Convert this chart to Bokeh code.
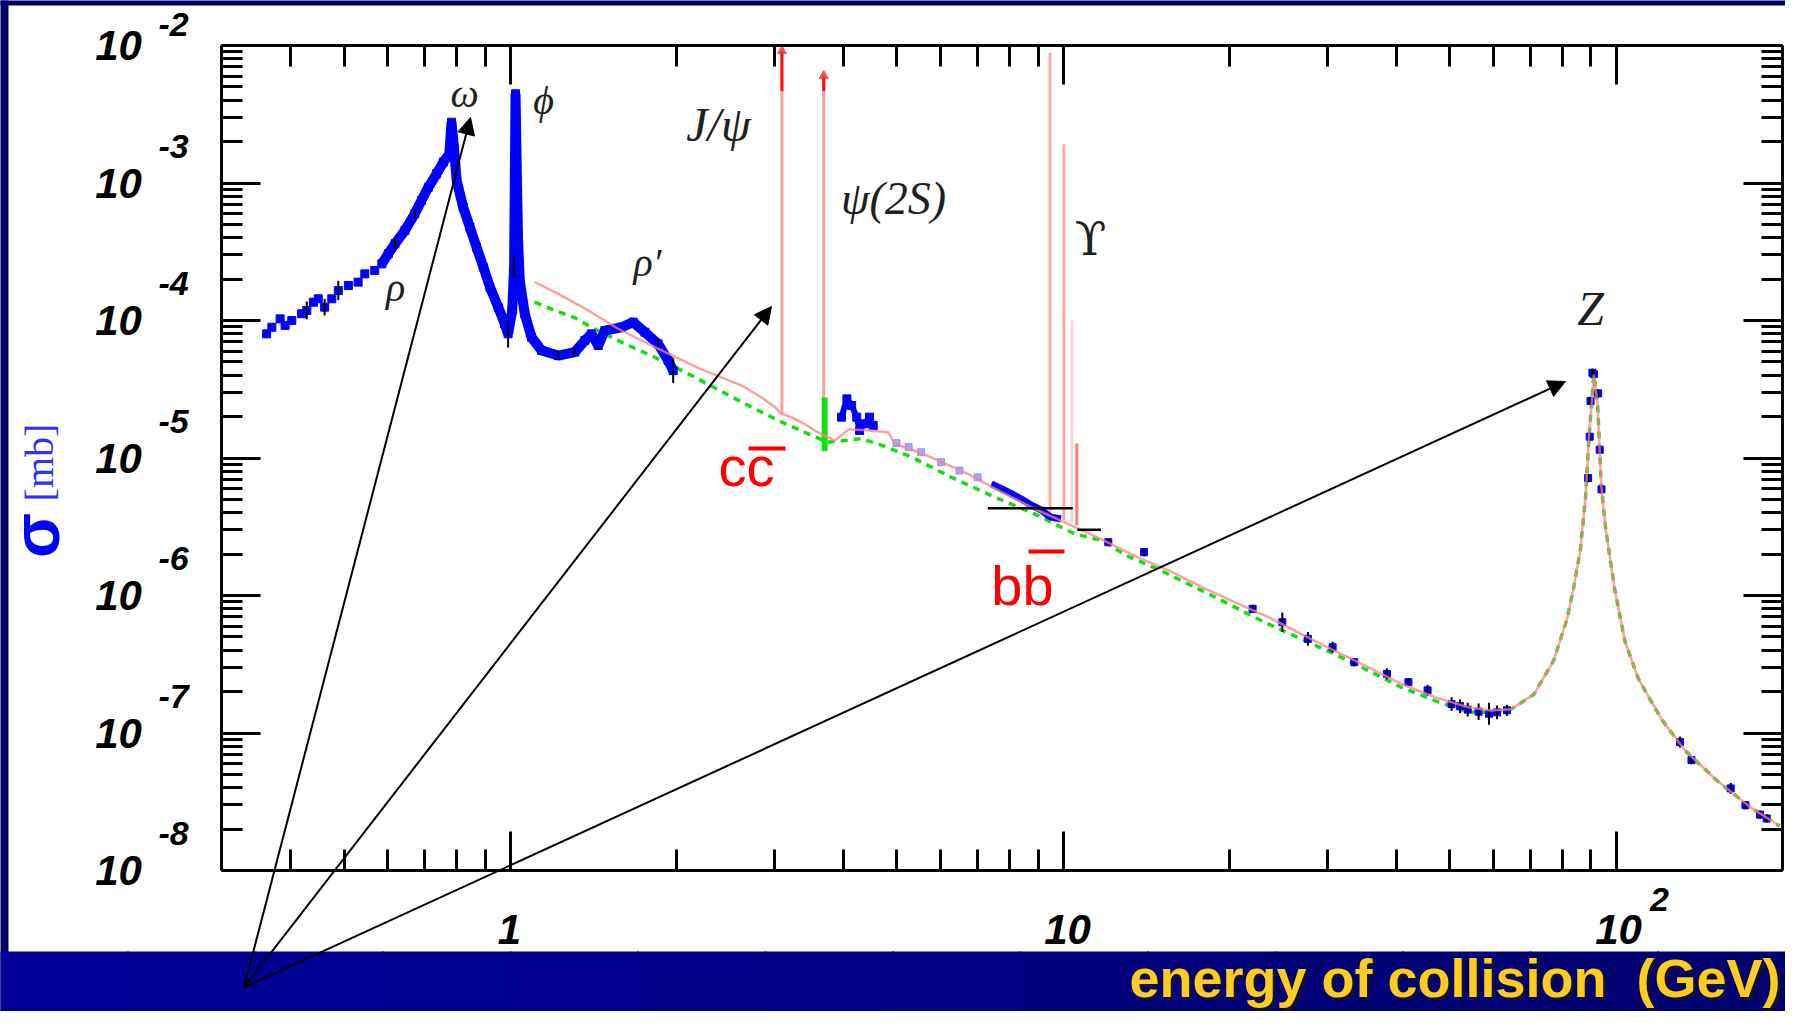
import math
from bokeh.plotting import figure
from bokeh.models import (Range1d, LogAxis, FixedTicker, Label, Arrow, NormalHead,
                          BoxAnnotation, ColumnDataSource)
from bokeh.embed import file_html
from bokeh.resources import INLINE

# ---------------- data (energy in GeV, log10 of cross-section in mb) ----------------
blue_low_E = [0.362, 0.370, 0.383, 0.391, 0.402, 0.419, 0.428, 0.440, 0.449, 0.461,
              0.475, 0.488, 0.509, 0.530, 0.545, 0.568, 0.585, 0.601, 0.618, 0.644,
              0.671, 0.690, 0.710, 0.735, 0.756, 0.775, 0.782, 0.790, 0.799, 0.821,
              0.844, 0.868, 0.893, 0.918, 0.950, 0.976, 0.990, 1.007, 1.015, 1.018,
              1.021, 1.027, 1.032, 1.039, 1.061, 1.091, 1.138, 1.220, 1.307, 1.363,
              1.401, 1.441, 1.481, 1.588, 1.667, 1.750, 1.849, 1.928, 1.969]
blue_low_log = [-4.097, -4.049, -3.988, -4.036, -4.000, -3.951, -3.927, -3.867, -3.842, -3.903,
                -3.842, -3.782, -3.745, -3.721, -3.661, -3.636, -3.588, -3.515, -3.442, -3.345,
                -3.224, -3.127, -3.031, -2.933, -2.848, -2.788, -2.558, -2.739, -2.982, -3.176,
                -3.321, -3.467, -3.612, -3.758, -3.903, -4.024, -4.097, -3.927, -3.612, -2.982,
                -2.351, -2.982, -3.418, -3.709, -3.951, -4.121, -4.218, -4.255, -4.230, -4.145,
                -4.097, -4.182, -4.073, -4.049, -4.012, -4.085, -4.170, -4.291, -4.364]
blue_low_err = [0, 0, 0, 0, 0, 0, 0.065, 0, 0, 0.06,
                0, 0.07, 0, 0, 0, 0, 0, 0, 0.04, 0,
                0.03, 0, 0, 0, 0, 0, 0, 0, 0, 0,
                0, 0, 0, 0, 0, 0, 0.10, 0, 0.08, 0,
                0, 0, 0, 0, 0, 0, 0, 0.03, 0.03, 0,
                0, 0, 0, 0, 0, 0, 0.04, 0, 0.09]

blue_mid_E = [3.97, 4.06, 4.14, 4.23, 4.28, 4.37, 4.46, 4.53]
blue_mid_log = [-4.703, -4.570, -4.618, -4.703, -4.800, -4.751, -4.703, -4.764]

lilac_E = [4.99, 5.25, 5.53, 6.01, 6.49, 7.00]
lilac_log = [-4.892, -4.921, -4.958, -5.030, -5.091, -5.140]

blue_b_E = [7.41, 7.74, 8.07, 8.41, 8.77, 9.14, 9.40, 9.51, 9.90]
blue_b_log = [-5.188, -5.224, -5.261, -5.300, -5.345, -5.380, -5.420, -5.430, -5.444]

cont_E = [12.06, 14.0, 22.0, 24.9, 27.7, 30.7, 33.6, 38.5, 42.1, 45.6,
          50.4, 52.2, 53.9, 56.4, 58.9, 60.9, 63.5, 89.0, 89.6, 89.9,
          90.6, 91.2, 92.8, 93.4, 94.1, 130.5, 136.9, 161.2, 171.4, 182.2, 187.3]
cont_log = [-5.612, -5.685, -6.097, -6.194, -6.315, -6.376, -6.485, -6.570, -6.630, -6.690,
            -6.790, -6.805, -6.830, -6.845, -6.860, -6.850, -6.835, -5.146, -4.845, -4.585,
            -4.380, -4.390, -4.530, -4.940, -5.228, -7.066, -7.197, -7.403, -7.525, -7.594, -7.622]
cont_err = [0.02, 0.03, 0.03, 0.07, 0.05, 0.04, 0.03, 0.04, 0.03, 0.04,
            0.05, 0.05, 0.05, 0.06, 0.08, 0.05, 0.04, 0.03, 0.03, 0.03,
            0.03, 0.03, 0.03, 0.03, 0.03, 0.04, 0.03, 0.04, 0.03, 0.03, 0.03]

pink_E = [1.106, 1.203, 1.382, 1.565, 1.824, 2.20, 2.62, 2.84, 3.01, 3.09,
          3.22, 3.40, 3.55, 3.86, 4.10, 4.45, 4.82, 4.96, 5.47, 5.85,
          6.72, 7.74, 8.87, 10.2, 11.7, 13.4, 15.5, 17.8, 20.4, 23.5,
          26.9, 30.9, 35.6, 40.8, 47.0, 53.9, 59.3, 64.5, 71.0, 77.1,
          81.5, 83.7, 86.1, 88.0, 89.3, 90.6, 91.1, 92.6, 94.0, 95.8,
          99.4, 103.8, 109.8, 121.3, 133.4, 152.4, 174.8, 197.6]
pink_log = [-3.720, -3.794, -3.927, -4.060, -4.194, -4.350, -4.473, -4.558, -4.630, -4.679,
            -4.703, -4.751, -4.800, -4.873, -4.790, -4.800, -4.812, -4.897, -4.958, -5.006,
            -5.115, -5.249, -5.370, -5.479, -5.590, -5.709, -5.818, -5.939, -6.048, -6.158,
            -6.279, -6.400, -6.521, -6.642, -6.739, -6.812, -6.836, -6.828, -6.719, -6.473,
            -6.172, -5.953, -5.679, -5.296, -4.858, -4.530, -4.394, -4.613, -5.200, -5.520,
            -5.953, -6.336, -6.609, -6.910, -7.129, -7.348, -7.539, -7.676]

green_E = [1.106, 1.203, 1.307, 1.401, 1.61, 1.824, 2.125, 2.62, 3.05, 3.40,
           3.75, 4.31, 4.62, 5.32, 6.27, 7.52, 8.87, 10.47, 11.74, 13.0,
           15.0, 17.3, 19.9, 23.1, 26.5, 30.9, 35.6, 40.8, 47.0, 53.9,
           59.3, 64.5, 71.0, 77.1, 81.5, 83.7, 86.1, 88.0, 89.3, 90.6,
           91.1, 92.6, 94.0, 95.8, 99.4, 103.8, 109.8, 121.3, 133.4, 152.4,
           174.8, 197.6]
green_log = [-3.867, -3.927, -3.980, -4.049, -4.170, -4.267, -4.400, -4.594, -4.727, -4.812,
             -4.885, -4.860, -4.897, -4.994, -5.140, -5.285, -5.406, -5.551, -5.600, -5.709,
             -5.818, -5.940, -6.060, -6.194, -6.303, -6.424, -6.545, -6.667, -6.764, -6.848,
             -6.850, -6.828, -6.719, -6.473, -6.172, -5.953, -5.679, -5.296, -4.858, -4.530,
             -4.394, -4.613, -5.200, -5.520, -5.953, -6.336, -6.609, -6.910, -7.129, -7.348,
             -7.539, -7.676]

# narrow resonances (vertical spikes)
spike_E = [3.097, 3.686, 9.46, 10.02, 10.36, 10.58]
spike_bottom_log = [-4.68, -4.86, -5.42, -5.45, -5.47, -5.49]
spike_top_log = [-2.04, -2.22, -2.055, -2.72, -4.00, -4.894]
spike_color = ["#ffa0a0", "#ffa0a0", "#ffa8a8", "#ffa8a8", "#ffd4d4", "#ff7a7a"]
redtip_E = [3.097, 3.686]
redtip_top_log = [-2.04, -2.22]
redtip_bot_log = [-2.33, -2.33]
green_spike_E = [3.70]
green_spike_lo = [-4.95]
green_spike_hi = [-4.56]

# black step segments near the b threshold
step_E0 = [7.3, 10.6]
step_E1 = [10.4, 11.7]
step_log = [-5.366, -5.522]

# axis ticks
x_major = [1, 10, 100]
x_minor = [0.4, 0.5, 0.6, 0.7, 0.8, 0.9, 2, 3, 4, 5, 6, 7, 8, 9,
           20, 30, 40, 50, 60, 70, 80, 90]
y_major_exp = [-8, -7, -6, -5, -4, -3, -2]
y_minor_mult = [2, 3, 4, 5, 6, 7, 8, 9]

# ---------------- geometry (reference pixels -> data) ----------------
W, H = 1785, 1011
FX0, FX1, FY0, FY1 = 221, 1782, 45, 870
XMIN, XMAX = 0.3, 200.0
YMIN, YMAX = 1e-8, 1e-2


def X(px):
    return 10 ** (math.log10(XMIN) + (px - FX0) / (FX1 - FX0) * math.log10(XMAX / XMIN))


def Y(py):
    return 10 ** (math.log10(YMAX) - (py - FY0) / (FY1 - FY0) * math.log10(YMAX / YMIN))


def sig(vals):
    return [10 ** v for v in vals]


p = figure(width=W, height=H, x_axis_type="log", y_axis_type="log",
           x_axis_location=None, y_axis_location=None,
           x_range=Range1d(X(0), X(W)), y_range=Range1d(Y(H), Y(0)),
           output_backend="svg", toolbar_location=None,
           min_border_left=0, min_border_right=0, min_border_top=0, min_border_bottom=0)
p.outline_line_color = None
p.xgrid.visible = False
p.ygrid.visible = False
p.background_fill_color = "white"
p.border_fill_color = "white"

xt = FixedTicker(ticks=x_major, minor_ticks=x_minor)
y_major = [10.0 ** e for e in y_major_exp]
y_minor = [m * 10.0 ** e for e in y_major_exp[:-1] for m in y_minor_mult]
yt = FixedTicker(ticks=y_major, minor_ticks=y_minor)


def make_axis(ticker, loc, bounds):
    ax = LogAxis(ticker=ticker, fixed_location=loc, bounds=bounds)
    ax.major_tick_in = 39
    ax.major_tick_out = 0
    ax.minor_tick_in = 21
    ax.minor_tick_out = 0
    ax.axis_line_width = 3
    ax.major_tick_line_width = 3
    ax.minor_tick_line_width = 3
    ax.axis_line_color = "black"
    ax.major_tick_line_color = "black"
    ax.minor_tick_line_color = "black"
    ax.major_label_text_font_size = "1px"
    ax.major_label_text_alpha = 0.0
    ax.major_label_standoff = 0
    return ax


p.add_layout(make_axis(xt, YMIN, (XMIN, XMAX)), "below")
p.add_layout(make_axis(xt, YMAX, (XMIN, XMAX)), "above")
p.add_layout(make_axis(yt, XMIN, (YMIN, YMAX)), "left")
p.add_layout(make_axis(yt, XMAX, (YMIN, YMAX)), "right")

# ---------------- glyphs ----------------
spikes = ColumnDataSource(dict(x=spike_E, y0=sig(spike_bottom_log), y1=sig(spike_top_log), c=spike_color))
p.segment(x0="x", y0="y0", x1="x", y1="y1", source=spikes, line_color="c", line_width=3)
p.segment(x0=redtip_E, y0=sig(redtip_bot_log), x1=redtip_E, y1=sig(redtip_top_log),
          line_color="#ff1010", line_width=3)
p.scatter(redtip_E, sig(redtip_top_log), marker="triangle", size=9, color="#ff3030", alpha=0.8)

p.line(green_E, sig(green_log), line_color="#10e010", line_width=3.5, line_dash="7 6")
p.segment(x0=green_spike_E, y0=sig(green_spike_lo), x1=green_spike_E, y1=sig(green_spike_hi),
          line_color="#10e010", line_width=6)

# blue data
p.line(blue_low_E[16:], sig(blue_low_log[16:]), line_color="#0000ff", line_width=10)
p.scatter(blue_low_E, sig(blue_low_log), marker="square", size=8, color="#0000ff")
p.line(blue_mid_E, sig(blue_mid_log), line_color="#0000ff", line_width=6)
p.scatter(blue_mid_E, sig(blue_mid_log), marker="square", size=8, color="#0000ff")
p.scatter(lilac_E, sig(lilac_log), marker="square", size=7, color="#8080ff", alpha=0.7)
p.line(blue_b_E, sig(blue_b_log), line_color="#0000ff", line_width=7)
p.scatter(cont_E, sig(cont_log), marker="square", size=7, color="#0000ff")

errs = ColumnDataSource(dict(
    x=blue_low_E + cont_E,
    lo=[10 ** (v - e) for v, e in zip(blue_low_log + cont_log, blue_low_err + cont_err)],
    hi=[10 ** (v + e) for v, e in zip(blue_low_log + cont_log, blue_low_err + cont_err)]))
p.segment(x0="x", y0="lo", x1="x", y1="hi", source=errs, line_color="black", line_width=2)

p.line(pink_E, sig(pink_log), line_color="#ff8080", line_width=2.5, alpha=0.75)

p.segment(x0=step_E0, y0=sig(step_log), x1=step_E1, y1=sig(step_log), line_color="black", line_width=2.5)


# ---------------- annotations ----------------
def lab(text, px, py, size, font="Liberation Sans", style="normal", color="black",
        align="center", angle=0.0):
    p.add_layout(Label(x=X(px), y=Y(py), text=text, text_font=font,
                       text_font_size=f"{size}px", text_font_style=style,
                       text_color=color, text_align=align, text_baseline="middle",
                       angle=angle))


def box(x0, x1, y0, y1, color):
    p.add_layout(BoxAnnotation(left=X(x0), right=X(x1), top=Y(y0), bottom=Y(y1),
                               fill_color=color, fill_alpha=1.0, line_color=None))


# navy frame strips and bottom band (gradient)
box(-2, W + 2, -2, 5, "#000066")
box(-2, 8, -2, H + 2, "#000066")
nb = 14
for i in range(nb):
    t = i / (nb - 1)
    b = int(round(152 - 40 * t))
    box(i * W / nb - 1, (i + 1) * W / nb + 1, 951, H + 2, f"#0000{b:02x}")

band_text = "energy of collision\u00a0\u00a0(GeV)"
lab(band_text, 1783, 980, 54, style="bold", color="#12122a", align="right")
lab(band_text, 1780, 977, 54, style="bold", color="#ffcc1f", align="right")

# y tick labels
for e in y_major_exp:
    yy = FY0 + (-2 - e) * (FY1 - FY0) / 6
    lab("10", 118, yy, 42, style="bold italic")
    lab(str(e), 173, max(yy - 37, 24), 34, style="bold italic")
# x tick labels
lab("1", 509, 929, 42, style="bold italic")
lab("10", 1067, 929, 42, style="bold italic")
lab("10", 1618, 929, 42, style="bold italic")
lab("2", 1659, 899, 34, style="bold italic")

# y axis title
lab("σ", 35, 535, 66, style="bold", color="#0000ff", angle=math.pi / 2)
lab("[mb]", 39, 462, 40, font="Liberation Serif", color="#3030ff", angle=math.pi / 2)

# resonance names
SER = "Liberation Serif"
lab("ω", 464, 93, 40, font=SER, style="italic", color="#202020")
lab("ϕ", 543, 100, 40, font=SER, style="italic", color="#202020")
lab("ρ", 395, 287, 40, font=SER, style="italic", color="#202020")
lab("ρ′", 647, 262, 40, font=SER, style="italic", color="#202020")
lab("J/ψ", 718, 124, 48, font=SER, style="italic", color="#202020")
lab("ψ(2S)", 893, 198, 46, font=SER, style="italic", color="#202020")
lab("ϒ", 1090, 238, 46, font="DejaVu Serif", color="#202020")
lab("Z", 1590, 308, 48, font=SER, style="italic", color="#202020")

# quark-pair labels
lab("cc", 746, 466, 56, color="#ff0000")
lab("bb", 1022, 585, 56, color="#ff0000")
p.add_layout(Arrow(x_start=X(748), y_start=Y(448), x_end=X(785), y_end=Y(448),
                   start=None, end=None, line_color="#ff0000", line_width=4))
p.add_layout(Arrow(x_start=X(1028), y_start=Y(551), x_end=X(1064), y_end=Y(551),
                   start=None, end=None, line_color="#ff0000", line_width=4))

# pointer arrows from the bottom band
for tx, ty in [(470, 117), (771, 306), (1565, 381)]:
    p.add_layout(Arrow(x_start=X(243.5), y_start=Y(987), x_end=X(tx), y_end=Y(ty),
                       line_color="black", line_width=2,
                       end=NormalHead(size=17, fill_color="black", line_color="black")))

open("out.html", "w").write(file_html(p, INLINE))
